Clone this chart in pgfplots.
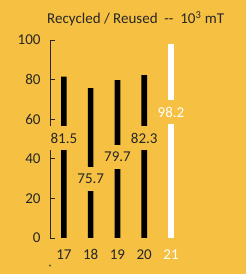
\documentclass[border=0pt]{standalone}
\usepackage{pgfplots}
\pgfplotsset{compat=1.18}
\usepackage{fontspec}
\setmainfont{Carlito}
\definecolor{bg}{HTML}{F6C142}
\definecolor{txt}{HTML}{262626}
\begin{document}
\begin{tikzpicture}[x=1pt,y=1pt]
\fill[bg] (0,0) rectangle (246,274);
\node[text=txt,anchor=base west,font=\fontsize{15}{16}\selectfont,inner sep=0pt] at (47,250.5) {Recycled / Reused\ \ -{}-\ \ 10\textsuperscript{3} mT};
\node[text=txt,font=\fontsize{8}{8}\selectfont,inner sep=0pt] at (50,6) {*};
\begin{axis}[
  at={(50pt,36pt)}, anchor=south west,
  scale only axis, width=134.4pt, height=198pt,
  xmin=16.48, xmax=21.5, ymin=0, ymax=100,
  axis lines*=left,
  x axis line style={draw=none},
  y axis line style={txt, line width=0.9pt},
  xtick={17,18,19,20,21},
  xticklabels={17,18,19,20,{\color{white}21}},
  major x tick style={draw=none},
  ytick={0,20,40,60,80,100},
  tick align=inside,
  major tick length=5pt,
  major y tick style={txt, line width=0.8pt},
  ticklabel style={text=txt, font=\fontsize{15}{16}\selectfont},
  yticklabel style={xshift=-6pt},
  xticklabel style={yshift=-8pt},
  /pgf/number format/assume math mode=true,
  clip=false,
]
\addplot[ybar, bar width=5.6pt, fill=black, draw=none] coordinates {(17,81.5) (18,75.7) (19,79.7) (20,82.3)};
\addplot[ybar, bar width=5.4pt, fill=white, draw=none] coordinates {(21,98.2)};
\addplot[only marks, mark=none, nodes near coords, point meta=explicit symbolic,
  every node near coord/.style={anchor=center, text=txt, fill=bg, inner xsep=1pt, inner ysep=7pt, font=\fontsize{15}{16}\selectfont}]
  coordinates {(17,50.5)[81.5] (18,29.8)[75.7] (19,40.9)[79.7] (20,50.5)[82.3]};
\addplot[only marks, mark=none, nodes near coords, point meta=explicit symbolic,
  every node near coord/.style={anchor=center, text=white, fill=bg, inner xsep=1pt, inner ysep=7pt, font=\fontsize{15}{16}\selectfont}]
  coordinates {(21,63.6)[98.2]};
\end{axis}
\end{tikzpicture}
\end{document}
